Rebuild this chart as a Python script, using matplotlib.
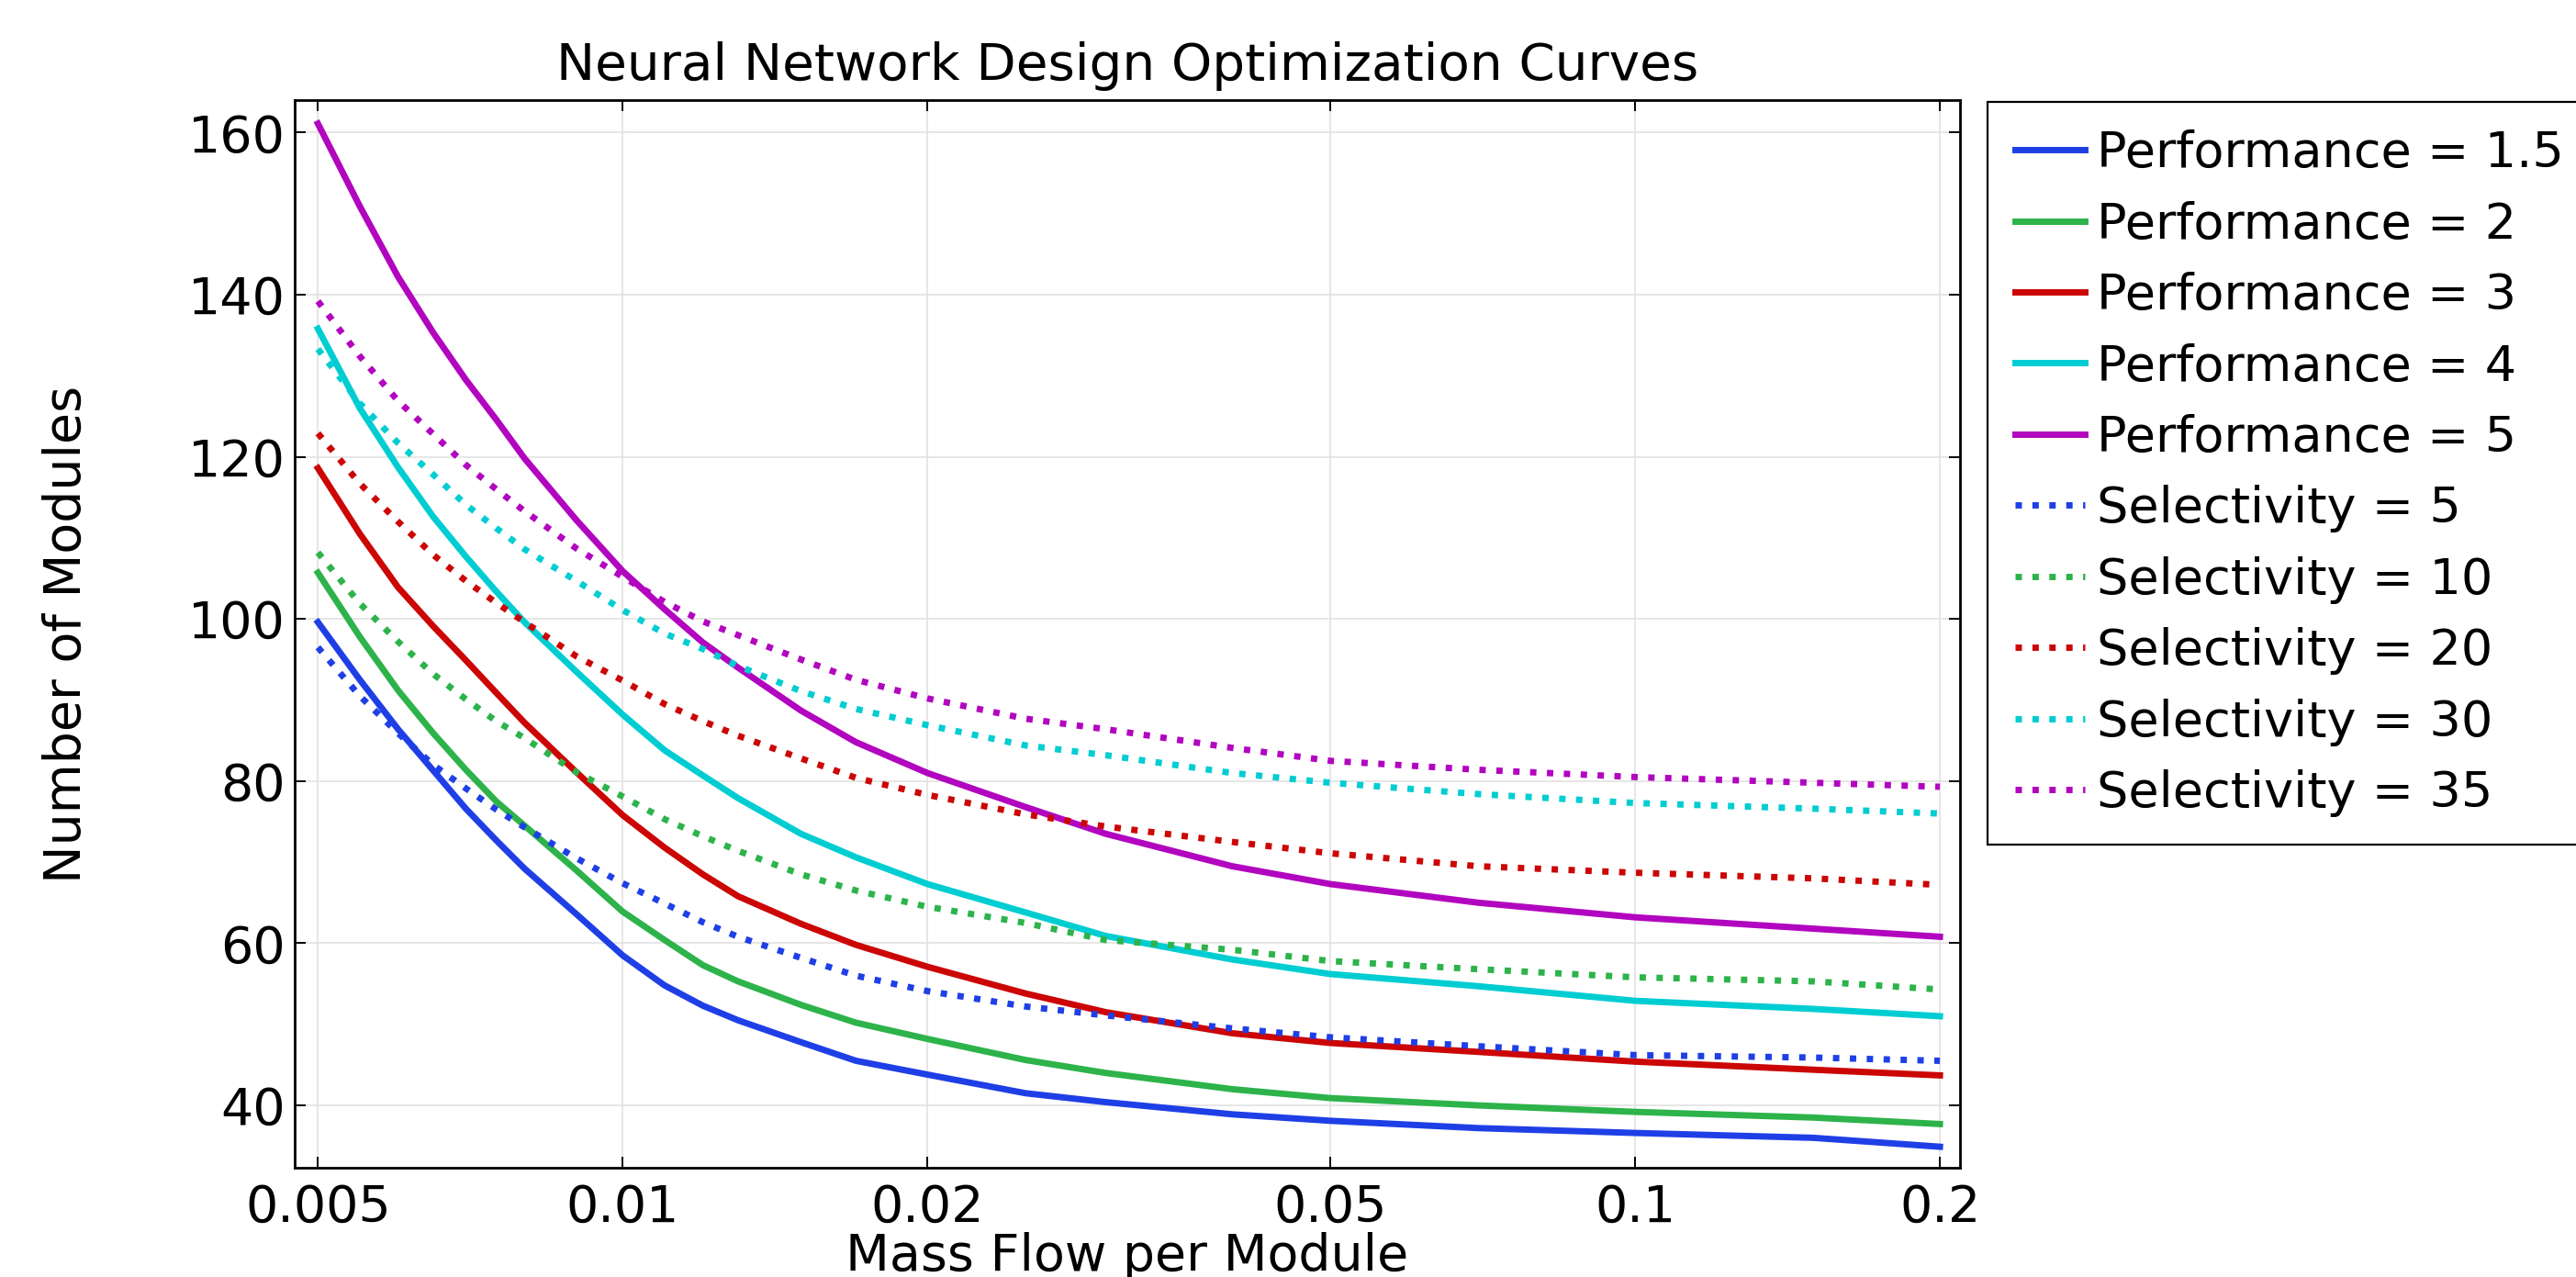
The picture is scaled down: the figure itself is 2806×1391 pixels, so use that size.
import numpy as np
import matplotlib
matplotlib.use("Agg")
import matplotlib.pyplot as plt

# mass flow per module (x) and curves
flow = [0.005, 0.0055, 0.006, 0.0065, 0.007, 0.0075, 0.008, 0.009, 0.01, 0.011,
        0.012, 0.013, 0.015, 0.017, 0.02, 0.025, 0.03, 0.04, 0.05, 0.07,
        0.1, 0.15, 0.2]

perf_labels = ["Performance = 1.5", "Performance = 2", "Performance = 3",
               "Performance = 4", "Performance = 5"]
perf_1_5 = [99.6, 92.5, 86.4, 81.3, 76.6, 72.7, 69.2, 63.6, 58.5, 54.8,
            52.3, 50.5, 47.8, 45.5, 43.8, 41.5, 40.4, 38.9, 38.1, 37.2,
            36.6, 36.0, 34.9]
perf_2 = [105.7, 97.8, 91.2, 85.9, 81.4, 77.5, 74.5, 69.0, 63.9, 60.4,
          57.3, 55.3, 52.4, 50.2, 48.2, 45.6, 44.0, 42.0, 40.9, 40.0,
          39.2, 38.5, 37.7]
perf_3 = [118.6, 110.5, 103.9, 99.1, 94.9, 90.9, 87.2, 81.1, 75.8, 71.8,
          68.5, 65.8, 62.4, 59.8, 57.1, 53.8, 51.5, 48.9, 47.7, 46.6,
          45.4, 44.4, 43.7]
perf_4 = [135.8, 126.0, 118.7, 112.6, 107.7, 103.4, 99.6, 93.5, 88.2, 83.8,
          80.7, 77.9, 73.5, 70.6, 67.3, 63.8, 60.9, 58.0, 56.2, 54.7,
          52.9, 51.9, 51.0]
perf_5 = [161.1, 150.9, 142.2, 135.3, 129.5, 124.6, 119.8, 112.2, 105.9, 101.2,
          97.1, 94.0, 88.7, 84.8, 81.0, 76.8, 73.5, 69.5, 67.3, 65.0,
          63.2, 61.8, 60.8]

sel_labels = ["Selectivity = 5", "Selectivity = 10", "Selectivity = 20",
              "Selectivity = 30", "Selectivity = 35"]
sel_5 = [96.5, 90.5, 85.9, 82.0, 79.1, 76.5, 74.3, 70.5, 67.4, 64.9,
         62.6, 60.8, 58.2, 56.0, 54.1, 52.2, 51.1, 49.5, 48.4, 47.3,
         46.2, 45.9, 45.5]
sel_10 = [108.2, 101.9, 97.2, 93.2, 90.1, 87.4, 85.3, 81.1, 78.1, 75.3,
          73.2, 71.4, 68.5, 66.5, 64.5, 62.5, 60.4, 59.2, 57.8, 56.8,
          55.8, 55.3, 54.3]
sel_20 = [122.9, 116.7, 112.0, 107.9, 104.7, 102.0, 99.6, 95.4, 92.4, 89.5,
          87.4, 85.6, 82.8, 80.4, 78.3, 75.9, 74.4, 72.5, 71.1, 69.5,
          68.7, 68.0, 67.2]
sel_30 = [133.3, 126.6, 121.7, 117.8, 114.1, 111.2, 108.6, 104.7, 101.1, 98.2,
          96.3, 94.2, 91.1, 88.9, 86.9, 84.4, 83.2, 81.0, 79.8, 78.4,
          77.3, 76.6, 76.0]
sel_35 = [139.2, 132.4, 126.9, 122.8, 119.0, 116.0, 113.3, 108.7, 105.2, 102.1,
          99.7, 98.0, 95.0, 92.5, 90.2, 87.7, 86.4, 84.1, 82.5, 81.4,
          80.5, 79.8, 79.3]

colors = ["#1f3fe6", "#2db34a", "#cc0505", "#00cdd2", "#b205bf"]

xticks = [0.005, 0.01, 0.02, 0.05, 0.1, 0.2]
xtick_labels = ["0.005", "0.01", "0.02", "0.05", "0.1", "0.2"]
yticks = [40, 60, 80, 100, 120, 140, 160]

fig = plt.figure(figsize=(14.03, 6.955), dpi=200)
ax = fig.add_axes([0.1143, 0.0855, 0.6466, 0.8361])

perf = [perf_1_5, perf_2, perf_3, perf_4, perf_5]
sel = [sel_5, sel_10, sel_20, sel_30, sel_35]

for vals, lab, c in zip(perf, perf_labels, colors):
    ax.plot(flow, vals, color=c, lw=2.5, ls="-", label=lab)
for vals, lab, c in zip(sel, sel_labels, colors):
    ax.plot(flow, vals, color=c, lw=2.5, ls=":", label=lab)

ax.set_xscale("log")
ax.set_xlim(0.00474, 0.2094)
ax.set_ylim(32.3, 164)
ax.set_xticks(xticks)
ax.set_xticklabels(xtick_labels)
ax.xaxis.set_minor_locator(matplotlib.ticker.NullLocator())
ax.set_yticks(yticks)

ax.grid(True, color="#e2e2e2", lw=0.6)
ax.set_axisbelow(True)
ax.tick_params(direction="in", length=4.3, width=0.7, top=True, right=True,
               labelsize=20)
ax.tick_params(axis="x", pad=6)
ax.tick_params(axis="y", pad=3.5)
for s in ax.spines.values():
    s.set_linewidth(1.0)

ax.set_title("Neural Network Design Optimization Curves", fontsize=20.3, pad=8)
ax.set_xlabel("Mass Flow per Module", fontsize=20)
ax.set_ylabel("Number of Modules", fontsize=20)
ax.xaxis.set_label_coords(0.5, -0.060)
ax.yaxis.set_label_coords(-0.122, 0.5)

leg = fig.legend(loc="upper left", bbox_to_anchor=(0.7716, 0.920),
                 bbox_transform=fig.transFigure, fontsize=19.5,
                 handlelength=1.4, handletextpad=0.25, labelspacing=0.47,
                 borderpad=0.55, borderaxespad=0, fancybox=False, framealpha=1)
leg.get_frame().set_edgecolor("black")
leg.get_frame().set_linewidth(0.8)

fig.savefig("out.png", dpi=200)
